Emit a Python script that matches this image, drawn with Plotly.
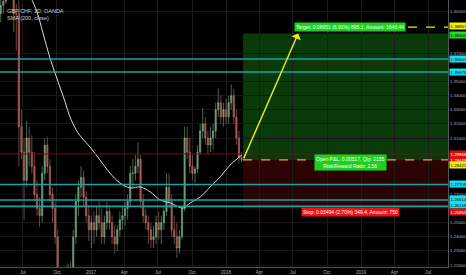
import plotly.graph_objects as go
import pandas as pd

# ---------------- data ----------------
week_start = "2016-05-02"
opens = [1.398,1.404,1.407,1.425,1.432,1.428,1.398,1.398,1.318,1.300,
         1.280,1.310,1.300,1.290,1.270,1.260,1.255,1.285,1.305,1.290,
         1.270,1.260,1.240,1.200,1.200,1.205,1.195,1.210,1.215,1.240,
         1.265,1.275,1.282,1.268,1.255,1.245,1.250,1.245,1.255,1.250,
         1.240,1.250,1.258,1.250,1.240,1.235,1.245,1.252,1.255,1.260,
         1.265,1.285,1.285,1.290,1.295,1.265,1.255,1.250,1.245,1.238,
         1.240,1.250,1.245,1.250,1.258,1.275,1.265,1.245,1.240,1.232,
         1.240,1.260,1.310,1.300,1.290,1.285,1.288,1.300,1.315,1.320,
         1.310,1.305,1.310,1.315,1.330,1.335,1.325,1.330,1.325,1.335,
         1.340,1.325,1.310,1.296]
highs = [1.412,1.415,1.432,1.440,1.438,1.432,1.405,1.435,1.330,1.310,
         1.322,1.318,1.312,1.300,1.280,1.268,1.290,1.310,1.311,1.295,
         1.275,1.265,1.245,1.215,1.218,1.219,1.221,1.222,1.245,1.270,
         1.280,1.290,1.287,1.272,1.262,1.255,1.258,1.262,1.265,1.260,
         1.255,1.265,1.262,1.255,1.248,1.248,1.258,1.262,1.265,1.270,
         1.290,1.295,1.298,1.307,1.298,1.270,1.260,1.255,1.250,1.248,
         1.255,1.258,1.255,1.262,1.285,1.285,1.270,1.255,1.250,1.245,
         1.262,1.318,1.318,1.310,1.298,1.290,1.305,1.320,1.331,1.325,
         1.315,1.318,1.320,1.335,1.345,1.340,1.335,1.338,1.340,1.348,
         1.345,1.330,1.315,1.300]
lows = [1.392,1.398,1.405,1.420,1.415,1.385,1.372,1.290,1.295,1.252,
        1.275,1.290,1.285,1.265,1.255,1.247,1.250,1.280,1.285,1.265,
        1.250,1.235,1.170,1.190,1.190,1.185,1.190,1.200,1.210,1.235,
        1.255,1.268,1.262,1.250,1.237,1.232,1.235,1.240,1.245,1.235,
        1.235,1.245,1.245,1.235,1.228,1.230,1.240,1.245,1.248,1.252,
        1.262,1.275,1.280,1.285,1.260,1.250,1.245,1.235,1.232,1.232,
        1.235,1.238,1.235,1.245,1.255,1.260,1.240,1.235,1.225,1.228,
        1.238,1.258,1.295,1.285,1.280,1.278,1.285,1.298,1.310,1.305,
        1.298,1.300,1.302,1.310,1.325,1.320,1.318,1.320,1.320,1.330,
        1.320,1.305,1.292,1.293]
closes = [1.404,1.407,1.425,1.432,1.428,1.398,1.398,1.318,1.300,1.280,
          1.310,1.300,1.290,1.270,1.260,1.255,1.285,1.305,1.290,1.270,
          1.260,1.240,1.200,1.200,1.205,1.195,1.210,1.215,1.240,1.265,
          1.275,1.282,1.268,1.255,1.245,1.250,1.245,1.255,1.250,1.240,
          1.250,1.258,1.250,1.240,1.235,1.245,1.252,1.255,1.260,1.265,
          1.285,1.285,1.290,1.295,1.265,1.255,1.250,1.245,1.238,1.240,
          1.250,1.245,1.250,1.258,1.275,1.265,1.245,1.240,1.232,1.240,
          1.260,1.310,1.300,1.290,1.285,1.288,1.300,1.315,1.320,1.310,
          1.305,1.310,1.315,1.330,1.335,1.325,1.330,1.325,1.335,1.340,
          1.325,1.310,1.296,1.2945]

sma_dates = ["2016-07-20","2016-08-08","2016-08-24","2016-09-12","2016-10-04",
             "2016-10-23","2016-11-05","2016-11-27","2016-12-29","2017-01-25",
             "2017-02-21","2017-03-20","2017-04-17","2017-05-14","2017-06-10",
             "2017-07-07","2017-08-03","2017-09-07","2017-09-26","2017-10-23",
             "2017-11-19","2017-12-16","2018-01-12","2018-02-13"]
sma_vals = [1.4110,1.3994,1.3845,1.3668,1.3498,1.3356,1.3250,1.3136,1.3037,1.2945,
            1.2852,1.2782,1.2746,1.2753,1.2718,1.2661,1.2640,1.2604,1.2640,1.2682,
            1.2753,1.2824,1.2909,1.2980]

cyan_levels = [1.36601, 1.35676, 1.27709, 1.26613, 1.26158]
red_level = 1.29868
entry_price = 1.29449
target_price = 1.38400
stop_price = 1.25955
marker_price = 1.38857
sma_last = 1.29421
entry_date = "2018-02-16"
arrow_date = "2018-07-15"

x_start, x_end = "2016-04-30", "2019-08-24"
y_lo, y_hi = 1.2186, 1.4078

tick_dates = ["2016-07-01","2016-10-01","2017-01-01","2017-04-01","2017-07-01",
              "2017-10-01","2018-01-01","2018-04-01","2018-07-01","2018-10-01",
              "2019-01-01","2019-04-01","2019-07-01"]
tick_text = ["Jul","Oct","2017","Apr","Jul","Oct","2018","Apr","Jul","Oct","2019","Apr","Jul"]
# price ticks every 0.01 (those hidden behind price tags in the picture are left out)
y_ticks = [1.22, 1.23, 1.24, 1.25, 1.27, 1.31, 1.32, 1.33, 1.34, 1.35, 1.37, 1.40]

target_text = "Target: 0.08951 (6.91%) 895.1, Amount: 1640.44"
open_text = "Open P&L: 0.00517, Qty: 2155<br>Risk/Reward Ratio: 2.56"
stop_text = "Stop: 0.03494 (2.70%) 349.4, Amount: 750"

# ---------------- figure ----------------
dates = pd.date_range(week_start, periods=len(closes), freq="7D")
FONT = "Liberation Sans, Arial, sans-serif"

fig = go.Figure()

# position boxes
fig.add_shape(type="rect", xref="x", yref="y", x0=entry_date, x1=x_end,
              y0=entry_price, y1=target_price, fillcolor="#0a3a0a",
              line_width=0, layer="below")
fig.add_shape(type="rect", xref="x", yref="y", x0=entry_date, x1=x_end,
              y0=stop_price, y1=entry_price, fillcolor="#2c0303",
              line_width=0, layer="below")

# horizontal levels
for lv in cyan_levels:
    fig.add_shape(type="line", xref="paper", yref="y", x0=0, x1=1, y0=lv, y1=lv,
                  line=dict(color="#1aa3a3", width=1.6))
fig.add_shape(type="line", xref="paper", yref="y", x0=0, x1=1, y0=red_level, y1=red_level,
              line=dict(color="#6a1414", width=1))

fig.add_trace(go.Candlestick(
    x=dates, open=opens, high=highs, low=lows, close=closes,
    increasing=dict(line=dict(color="#9cc4a2", width=0.5), fillcolor="#4f8f5b"),
    decreasing=dict(line=dict(color="#d08a84", width=0.5), fillcolor="#a53c36"),
    whiskerwidth=0, hoverinfo="skip", showlegend=False))

fig.add_trace(go.Scatter(x=sma_dates, y=sma_vals, mode="lines",
                         line=dict(color="#d8d8d8", width=1, shape="spline"),
                         hoverinfo="skip", showlegend=False))

# entry dashed line
fig.add_shape(type="line", xref="x", yref="y", x0=entry_date, x1=x_end,
              y0=entry_price, y1=entry_price,
              line=dict(color="#f5a623", width=1.3, dash="dash"))
# marker dashed line (yellow)
fig.add_shape(type="line", xref="paper", yref="y", x0=408/448, x1=1,
              y0=marker_price, y1=marker_price,
              line=dict(color="#f0f000", width=1.3, dash="dash"))

# arrow
fig.add_annotation(x=arrow_date, y=target_price, ax=entry_date, ay=entry_price,
                   xref="x", yref="y", axref="x", ayref="y", text="",
                   showarrow=True, arrowhead=1, arrowsize=1.2, arrowwidth=1.4,
                   arrowcolor="#e8f018")

# labels
fig.add_annotation(x=350/448, y=marker_price, xref="paper", yref="y", text=target_text,
                   showarrow=False, xanchor="center", bgcolor="#1ed01e",
                   font=dict(size=5, color="white", family=FONT), borderpad=1)
fig.add_annotation(x=350/448, y=entry_price - 0.0016, xref="paper", yref="y", text=open_text,
                   showarrow=False, xanchor="center", bgcolor="#1ed01e",
                   font=dict(size=5, color="white", family=FONT), borderpad=1, align="center")
fig.add_annotation(x=350/448, y=stop_price - 0.0021, xref="paper", yref="y", text=stop_text,
                   showarrow=False, xanchor="center", bgcolor="#ee1111",
                   font=dict(size=5, color="white", family=FONT), borderpad=1)

# right-axis price tags
tags = [(marker_price, "#f0f000", "#000"), (target_price, "#22dd22", "#000"),
        (cyan_levels[0], "#19e0f0", "#000"), (cyan_levels[1], "#19e0f0", "#000"),
        (red_level, "#d01010", "#fff"), (entry_price, "#e01010", "#fff"),
        (sma_last, "#f0f000", "#000"),
        (cyan_levels[2], "#19e0f0", "#000"), (cyan_levels[3], "#19e0f0", "#000"),
        (cyan_levels[4], "#19e0f0", "#000"), (stop_price, "#e01010", "#fff")]
offsets = {sma_last: -0.0035, marker_price: 0.0005, target_price: -0.0010,
           cyan_levels[3]: 0.0008, cyan_levels[4]: 0.0012, stop_price: -0.0022}
for val, bg, fg in tags:
    fig.add_annotation(x=1, y=val + offsets.get(val, 0), xref="paper", yref="y",
                       text=f"{val:.5f}", showarrow=False, xanchor="left",
                       bgcolor=bg, font=dict(size=4.4, color=fg, family=FONT),
                       borderpad=0.5, xshift=1)

# header text
fig.add_annotation(x=0.011, y=0.978, xref="paper", yref="paper", text="GBP/CHF, 1D, OANDA",
                   showarrow=False, xanchor="left", font=dict(size=5.5, color="#cfcfcf", family=FONT))
fig.add_annotation(x=0.011, y=0.952, xref="paper", yref="paper", text="SMA (200, close)",
                   showarrow=False, xanchor="left", font=dict(size=5.5, color="#cfcfcf", family=FONT))

fig.update_layout(
    width=466, height=275,
    margin=dict(l=0, r=18, t=0, b=8),
    paper_bgcolor="#000000", plot_bgcolor="#000000",
    showlegend=False,
    xaxis=dict(type="date", range=[x_start, x_end], tickvals=tick_dates, ticktext=tick_text,
               tickfont=dict(size=4.6, color="#b0b0b0", family=FONT),
               showgrid=True, gridcolor="#1c1c1c", gridwidth=1, zeroline=False,
               showline=True, linecolor="#555555", linewidth=1, ticks="",
               rangeslider=dict(visible=False), fixedrange=True),
    yaxis=dict(range=[y_lo, y_hi], side="right", tickvals=y_ticks,
               ticktext=[f"{v:.5f}" for v in y_ticks],
               tickfont=dict(size=4.4, color="#b0b0b0", family=FONT),
               showgrid=True, gridcolor="#161616", gridwidth=1, zeroline=False,
               showline=True, linecolor="#555555", linewidth=1, ticks="",
               fixedrange=True),
)

fig.write_html("out.html")
